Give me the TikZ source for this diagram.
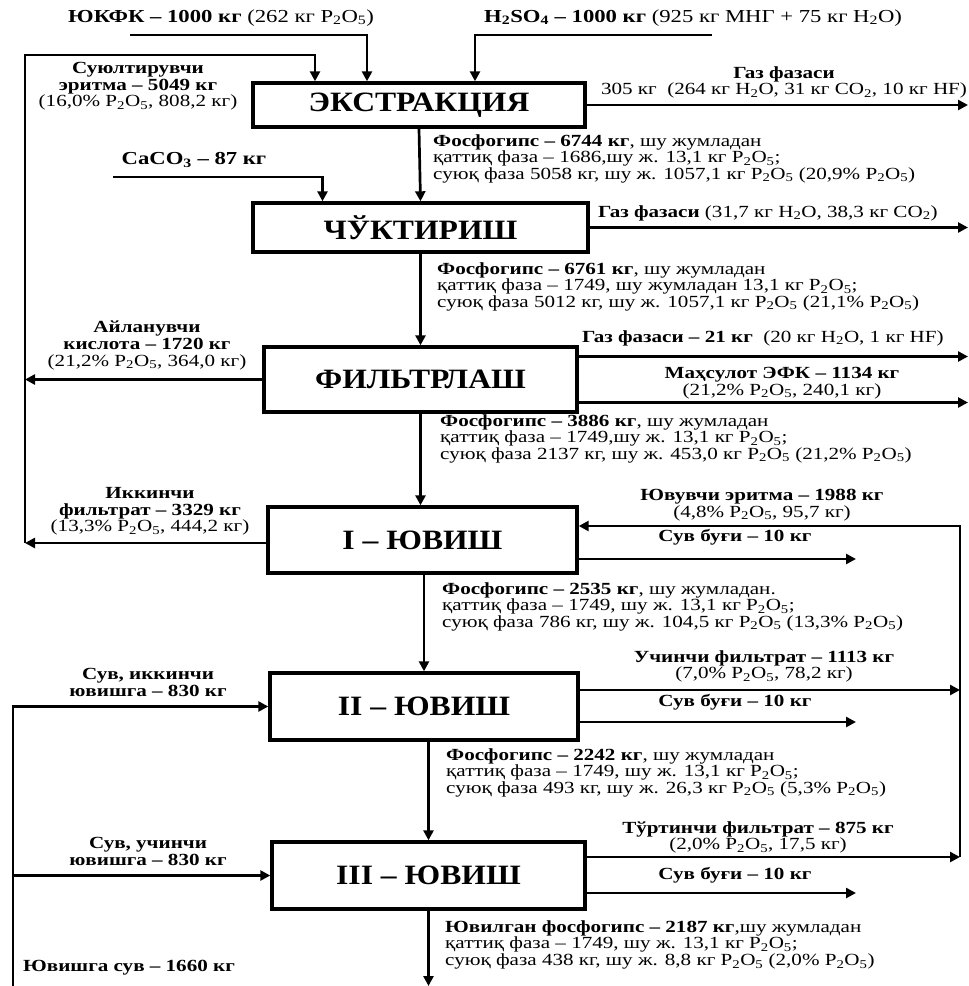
\documentclass[tikz,border=0pt]{standalone}
\usepackage{fontspec}
\setmainfont{Liberation Serif}[FakeStretch=1.24]
\newfontfamily\boxfont{Liberation Serif}[FakeStretch=1.13]
\usepackage{tikz}
\usetikzlibrary{arrows.meta,calc,positioning}
\newcommand{\Pfive}{P\textsubscript{2}O\textsubscript{5}}
\newcommand{\Hwater}{H\textsubscript{2}O}
\newcommand{\COtwo}{CO\textsubscript{2}}
\tikzset{
  stage/.style={draw=black,line width=3.4pt,fill=white,inner sep=0pt,
    font=\boxfont\bfseries\fontsize{28}{30}\selectfont},
  flow/.style={-{Triangle[length=10pt,width=10pt]},line width=2.7pt},
  lbl/.style={inner sep=0pt,font=\fontsize{17}{16.7}\selectfont,align=center},
  note/.style={lbl,align=left,anchor=north west},
  feed/.style={inner sep=0pt,font=\fontsize{18.3}{20}\selectfont,anchor=west}
}

\begin{document}
\begin{tikzpicture}[x=1pt,y=-1pt]
  \useasboundingbox (0,0) rectangle (969,986);
  % process stages
  \node[stage,minimum width=332pt,minimum height=44pt] (ext) at (419,105) {ЭКСТРАКЦИЯ};
  \node[stage,minimum width=335pt,minimum height=49pt] (chuk) at (420.5,227.5) {ЧЎКТИРИШ};
  \node[stage,minimum width=313pt,minimum height=65pt] (filt) at (420.5,379.5) {ФИЛЬТРЛАШ};
  \node[stage,minimum width=309pt,minimum height=66pt] (yuv1) at (422.5,540) {I – ЮВИШ};
  \node[stage,minimum width=308pt,minimum height=67pt] (yuv2) at (424,706.5) {II – ЮВИШ};
  \node[stage,minimum width=313pt,minimum height=67pt] (yuv3) at (428.5,875.5) {III – ЮВИШ};

  % free ends and side rails
  \coordinate (ukfk0) at (130,35);
  \coordinate (acid0) at (712,35);
  \coordinate (caco0) at (113,177);
  \coordinate (lft) at (25,55);
  \coordinate (rgt) at (960,0);
  \coordinate (rend) at (968,0);
  \coordinate (vap) at (856,0);
  \coordinate (bot) at (13,986);
  \coordinate (filtG) at ([yshift=23pt]filt.east);
  \coordinate (filtP) at ([yshift=-23pt]filt.east);
  \coordinate (yuv1R) at ([yshift=-3pt]yuv1.west);
  \coordinate (yuv1W) at ([yshift=14pt]yuv1.east);
  \coordinate (yuv1V) at ([yshift=-19pt]yuv1.east);
  \coordinate (yuv2F) at ([yshift=16.5pt]yuv2.east);
  \coordinate (yuv2V) at ([yshift=-15.5pt]yuv2.east);
  \coordinate (yuv3F) at ([yshift=18.5pt]yuv3.east);
  \coordinate (yuv3V) at ([yshift=-17.5pt]yuv3.east);

  % main line
  \draw[flow] (ext.south) -- (chuk.north);
  \draw[flow] (chuk.south) -- (filt.north);
  \draw[flow] (filt.south) -- (filt.south |- yuv1.north);
  \draw[flow] (yuv2.north |- yuv1.south) -- (yuv2.north);
  \draw[flow] (yuv3.north |- yuv2.south) -- (yuv3.north);
  \draw[flow] (yuv3.south) -- (yuv3.south |- bot);

  % feeds
  \draw[flow] (ukfk0) -| ([xshift=-52pt]ext.north);
  \draw[flow] (acid0) -| ([xshift=56pt]ext.north);
  \draw[flow] (caco0) -| ([xshift=-98pt]chuk.north);

  % recycle to extraction
  \draw[flow] (filt.west) -- (filt.west -| lft);
  \draw[flow] (yuv1R) -- (yuv1R -| lft);
  \draw[flow] (yuv1R -| lft) -- (lft) -| ([xshift=-104pt]ext.north);

  % outlets
  \draw[flow] (ext.east) -- (ext.east -| rend);
  \draw[flow] (chuk.east) -- (chuk.east -| rend);
  \draw[flow] (filtG) -- (filtG -| rend);
  \draw[flow] (filtP) -- (filtP -| rend);
  \draw[flow] (yuv1V) -- (yuv1V -| vap);
  \draw[flow] (yuv2V) -- (yuv2V -| vap);
  \draw[flow] (yuv3V) -- (yuv3V -| vap);

  % counter-current wash
  \draw[flow] (yuv2F) -- (yuv2F -| rgt);
  \draw[flow] (yuv3F) -- (yuv3F -| rgt);
  \draw[flow] (yuv3F -| rgt) |- (yuv1W);
  \draw[flow] (bot) |- (yuv2.west);
  \draw[flow] (yuv3.west -| bot) -- (yuv3.west);

  % labels
  \node[feed] (ukfkT) at (68,18) {\textbf{ЮКФК – 1000 кг} (262 кг \Pfive)};
  \node[feed] (acidT) at (484,18) {\textbf{H\textsubscript{2}SO\textsubscript{4} – 1000 кг} (925 кг МНГ + 75 кг \Hwater)};
  \node[feed,anchor=center] (cacoT) at (194,160) {\textbf{CaCO\textsubscript{3} – 87 кг}};
  \node[lbl,anchor=north] (suyT) at (138,62) {\textbf{Суюлтирувчи}\\\textbf{эритма – 5049 кг}\\(16,0\% \Pfive, 808,2 кг)};
  \node[lbl,anchor=north] (gas1T) at (784,66) {\textbf{Газ фазаси}\\305 кг~~(264 кг \Hwater, 31 кг \COtwo, 10 кг HF)};
  \node[note] (fg1T) at (433,134) {\textbf{Фосфогипс – 6744 кг}, шу жумладан\\қаттиқ фаза – 1686,шу ж. 13,1 кг \Pfive;\\суюқ фаза 5058 кг, шу ж. 1057,1 кг \Pfive{} (20,9\% \Pfive)};
  \node[lbl,anchor=west] (gas2T) at (598,213) {\textbf{Газ фазаси} (31,7 кг \Hwater, 38,3 кг \COtwo)};
  \node[note] (fg2T) at (437,262) {\textbf{Фосфогипс – 6761 кг}, шу жумладан\\қаттиқ фаза – 1749, шу жумладан 13,1 кг \Pfive;\\суюқ фаза 5012 кг, шу ж. 1057,1 кг \Pfive{} (21,1\% \Pfive)};
  \node[lbl,anchor=north] (aylT) at (147,321) {\textbf{Айланувчи}\\\textbf{кислота – 1720 кг}\\(21,2\% \Pfive, 364,0 кг)};
  \node[lbl,anchor=west] (gas3T) at (582,338) {\textbf{Газ фазаси – 21 кг}~~(20 кг \Hwater, 1 кг HF)};
  \node[lbl,anchor=north] (efkT) at (782,367) {\textbf{Маҳсулот ЭФК – 1134 кг}\\(21,2\% \Pfive, 240,1 кг)};
  \node[note] (fg3T) at (440,414) {\textbf{Фосфогипс – 3886 кг}, шу жумладан\\қаттиқ фаза – 1749,шу ж. 13,1 кг \Pfive;\\суюқ фаза 2137 кг, шу ж. 453,0 кг \Pfive{} (21,2\% \Pfive)};
  \node[lbl,anchor=north] (ikkT) at (150,487) {\textbf{Иккинчи}\\\textbf{фильтрат – 3329 кг}\\(13,3\% \Pfive, 444,2 кг)};
  \node[lbl,anchor=north] (yuvT) at (762,489) {\textbf{Ювувчи эритма – 1988 кг}\\(4,8\% \Pfive, 95,7 кг)};
  \node[lbl] (bug1T) at (735,537) {\textbf{Сув буғи – 10 кг}};
  \node[note] (fg4T) at (442,582) {\textbf{Фосфогипс – 2535 кг}, шу жумладан.\\қаттиқ фаза – 1749, шу ж. 13,1 кг \Pfive;\\суюқ фаза 786 кг, шу ж. 104,5 кг \Pfive{} (13,3\% \Pfive)};
  \node[lbl,anchor=north] (uchT) at (764,650) {\textbf{Учинчи фильтрат – 1113 кг}\\(7,0\% \Pfive, 78,2 кг)};
  \node[lbl,anchor=north] (suv2T) at (148,668) {\textbf{Сув, иккинчи}\\\textbf{ювишга – 830 кг}};
  \node[lbl] (bug2T) at (735,702) {\textbf{Сув буғи – 10 кг}};
  \node[note] (fg5T) at (446,748) {\textbf{Фосфогипс – 2242 кг}, шу жумладан\\қаттиқ фаза – 1749, шу ж. 13,1 кг \Pfive;\\суюқ фаза 493 кг, шу ж. 26,3 кг \Pfive{} (5,3\% \Pfive)};
  \node[lbl,anchor=north] (turT) at (758,821) {\textbf{Тўртинчи фильтрат – 875 кг}\\(2,0\% \Pfive, 17,5 кг)};
  \node[lbl,anchor=north] (suv3T) at (148,837) {\textbf{Сув, учинчи}\\\textbf{ювишга – 830 кг}};
  \node[lbl] (bug3T) at (735,875) {\textbf{Сув буғи – 10 кг}};
  \node[note] (fg6T) at (445,920) {\textbf{Ювилган фосфогипс – 2187 кг},шу жумладан\\қаттиқ фаза – 1749, шу ж. 13,1 кг \Pfive;\\суюқ фаза 438 кг, шу ж. 8,8 кг \Pfive{} (2,0\% \Pfive)};
  \node[lbl,anchor=west] (ywT) at (23,968) {\textbf{Ювишга сув – 1660 кг}};
\end{tikzpicture}
\end{document}
